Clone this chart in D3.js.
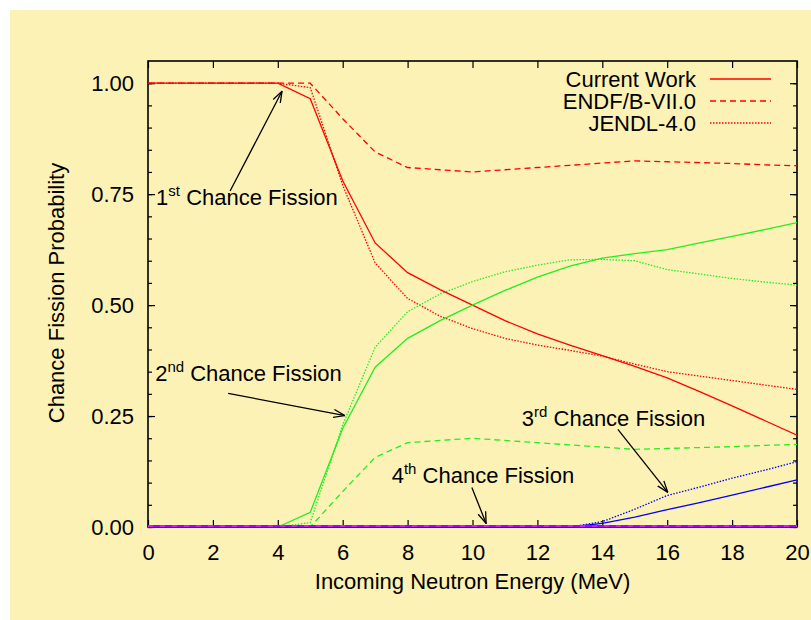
<!DOCTYPE html>
<html>
<head>
<meta charset="utf-8">
<script src="https://cdnjs.cloudflare.com/ajax/libs/d3/7.8.5/d3.min.js"></script>
<style>
  html, body { margin: 0; padding: 0; background: #fff; }
  svg { display: block; }
  text { font-family: "Liberation Sans", Arial, Helvetica, sans-serif; fill: #000; }
</style>
</head>
<body>
<svg id="chart" width="811" height="620"></svg>
<script>
// incoming neutron energy (MeV)
var energy = [0, 1, 2, 3, 4, 5, 6, 7, 8, 9, 10, 11, 12, 13, 14, 15, 16, 17, 18, 19, 20];

// Current Work
var cw1 = [1, 1, 1, 1, 1, 0.965, 0.78, 0.64, 0.573, 0.535, 0.50, 0.465, 0.435, 0.41, 0.386, 0.362, 0.336, 0.305, 0.273, 0.24, 0.207];
var cw2 = [0, 0, 0, 0, 0, 0.033, 0.222, 0.36, 0.425, 0.465, 0.50, 0.533, 0.563, 0.588, 0.606, 0.616, 0.625, 0.64, 0.655, 0.67, 0.686];
var cw3 = [0, 0, 0, 0, 0, 0, 0, 0, 0, 0, 0, 0, 0, 0, 0.008, 0.022, 0.039, 0.055, 0.072, 0.089, 0.106];
var cw4 = [0, 0, 0, 0, 0, 0, 0, 0, 0, 0, 0, 0, 0, 0, 0, 0, 0, 0, 0, 0, 0];

// ENDF/B-VII.0
var endf1 = [1, 1, 1, 1, 1, 1, 0.92, 0.845, 0.81, 0.805, 0.80, 0.805, 0.81, 0.815, 0.82, 0.825, 0.823, 0.821, 0.819, 0.816, 0.814];
var endf2 = [0, 0, 0, 0, 0, 0, 0.08, 0.157, 0.19, 0.195, 0.20, 0.195, 0.19, 0.185, 0.18, 0.175, 0.177, 0.179, 0.181, 0.184, 0.186];
var endf3 = [0, 0, 0, 0, 0, 0, 0, 0, 0, 0, 0, 0, 0, 0, 0, 0, 0, 0, 0, 0, 0];
var endf4 = [0, 0, 0, 0, 0, 0, 0, 0, 0, 0, 0, 0, 0, 0, 0, 0, 0, 0, 0, 0, 0];

// JENDL-4.0
var jendl1 = [1, 1, 1, 1, 1, 0.99, 0.77, 0.595, 0.515, 0.475, 0.447, 0.425, 0.41, 0.398, 0.385, 0.367, 0.35, 0.34, 0.33, 0.32, 0.31];
var jendl2 = [0, 0, 0, 0, 0, 0.01, 0.23, 0.405, 0.485, 0.525, 0.553, 0.575, 0.59, 0.602, 0.603, 0.60, 0.58, 0.57, 0.56, 0.552, 0.545];
var jendl3 = [0, 0, 0, 0, 0, 0, 0, 0, 0, 0, 0, 0, 0, 0, 0.012, 0.04, 0.071, 0.09, 0.11, 0.128, 0.147];

var xTicks = [0, 2, 4, 6, 8, 10, 12, 14, 16, 18, 20];
var yTicks = [0, 0.25, 0.5, 0.75, 1.0];
var yMinorTicks = d3.range(0, 21).map(function (i) { return i * 0.05; });

var legendLabels = ['Current Work', 'ENDF/B-VII.0', 'JENDL-4.0'];

// annotation text and arrows, in data coordinates
var annotations = [
  { n: '1', sup: 'st', x: 0.25, y: 0.726, from: [2.53, 0.757], to: [4.13, 0.982] },
  { n: '2', sup: 'nd', x: 0.22, y: 0.329, from: [2.47, 0.301], to: [6.07, 0.251] },
  { n: '3', sup: 'rd', x: 11.52, y: 0.227, from: [14.48, 0.220], to: [16.02, 0.078] },
  { n: '4', sup: 'th', x: 7.51, y: 0.100, from: [9.98, 0.089], to: [10.42, 0.008] }
];

var red = '#ff0000', green = '#22ee22', blue = '#0000ff', purple = '#a800f8', magenta = '#ff33ff';
var solid = null, dashed = '6,4', dotted = '1.5,1.5';

var series = [
  { values: endf1, color: red, dash: dashed, w: 1.3 },
  { values: endf2, color: green, dash: dashed, w: 1.3 },
  { values: endf3, color: blue, dash: dashed, w: 1.3 },
  { values: jendl1, color: red, dash: dotted, w: 1.3 },
  { values: jendl2, color: green, dash: dotted, w: 1.3 },
  { values: jendl3, color: blue, dash: dotted, w: 1.3 },
  { values: cw1, color: red, dash: solid, w: 1.3 },
  { values: cw2, color: green, dash: solid, w: 1.3 },
  { values: cw3, color: blue, dash: solid, w: 1.3 },
  { values: cw4, color: purple, dash: solid, w: 2.2 },
  { values: endf4, color: magenta, dash: '5,7', w: 1.2 }
];
var legendStyles = [solid, dashed, dotted];

var svg = d3.select('#chart');
var margin = { left: 148, right: 14, top: 61, bottom: 93 };
var W = 811, H = 620;
var width = W - margin.left - margin.right;
var height = H - margin.top - margin.bottom;
var fontSize = 22;

// page background
svg.append('rect')
  .attr('x', 10).attr('y', 10)
  .attr('width', W - 10).attr('height', H - 10)
  .attr('fill', '#fdf2b6');

var x = d3.scaleLinear().domain([0, 20]).range([0, width]);
var y = d3.scaleLinear().domain([0, 1.05]).range([height, 0]);

var defs = svg.append('defs');
defs.append('marker')
  .attr('id', 'head')
  .attr('viewBox', '0 0 12 10')
  .attr('refX', 11.5).attr('refY', 5)
  .attr('markerWidth', 12).attr('markerHeight', 10)
  .attr('markerUnits', 'userSpaceOnUse')
  .attr('orient', 'auto')
  .append('path')
  .attr('d', 'M0,1 L11.5,5 L0,9')
  .attr('fill', 'none')
  .attr('stroke', '#000')
  .attr('stroke-width', 1.3);

defs.append('clipPath').attr('id', 'plot-clip')
  .append('rect').attr('width', width).attr('height', height + 2).attr('y', -1);

var g = svg.append('g')
  .attr('transform', 'translate(' + margin.left + ',' + margin.top + ')');

// axes (ticks inward, mirrored)
function styleAxis(sel) {
  sel.select('.domain').remove();
  sel.selectAll('line').attr('stroke', '#000').attr('stroke-width', 1.2);
  sel.selectAll('text')
    .style('font-size', fontSize + 'px')
    .style('font-family', '"Liberation Sans", Arial, Helvetica, sans-serif')
    .attr('fill', '#000');
}

g.append('g')
  .attr('transform', 'translate(0,' + height + ')')
  .call(d3.axisBottom(x).tickValues(xTicks).tickFormat(d3.format('d')).tickSize(-7).tickPadding(17))
  .call(styleAxis);
g.append('g')
  .call(d3.axisTop(x).tickValues(xTicks).tickFormat('').tickSize(-7))
  .call(styleAxis);
g.append('g')
  .call(d3.axisLeft(y).tickValues(yTicks).tickFormat(d3.format('.2f')).tickSize(-7).tickPadding(14))
  .call(styleAxis);
g.append('g')
  .call(d3.axisLeft(y).tickValues(yMinorTicks).tickFormat('').tickSize(-4))
  .call(styleAxis);
g.append('g')
  .attr('transform', 'translate(' + width + ',0)')
  .call(d3.axisRight(y).tickValues(yTicks).tickFormat('').tickSize(-7))
  .call(styleAxis);
g.append('g')
  .attr('transform', 'translate(' + width + ',0)')
  .call(d3.axisRight(y).tickValues(yMinorTicks).tickFormat('').tickSize(-4))
  .call(styleAxis);

// frame
g.append('rect')
  .attr('width', width).attr('height', height)
  .attr('fill', 'none')
  .attr('stroke', '#000')
  .attr('stroke-width', 1.6);

// curves
var line = d3.line()
  .x(function (d, i) { return x(energy[i]); })
  .y(function (d) { return y(d); });

var curves = g.append('g').attr('clip-path', 'url(#plot-clip)');
series.forEach(function (s) {
  curves.append('path')
    .attr('d', line(s.values))
    .attr('fill', 'none')
    .attr('stroke', s.color)
    .attr('stroke-width', s.w)
    .attr('stroke-dasharray', s.dash)
    // zero-valued lines sit just above the frame, like the original plot
    .attr('transform', d3.max(s.values) === 0 ? 'translate(0,-1)' : null);
});

// annotations
annotations.forEach(function (a) {
  var t = g.append('text')
    .attr('x', x(a.x)).attr('y', y(a.y))
    .style('font-size', fontSize + 'px');
  t.append('tspan').text(a.n);
  t.append('tspan').attr('dy', -9).style('font-size', '15px').text(a.sup);
  t.append('tspan').attr('dy', 9).text(' Chance Fission');

  g.append('line')
    .attr('x1', x(a.from[0])).attr('y1', y(a.from[1]))
    .attr('x2', x(a.to[0])).attr('y2', y(a.to[1]))
    .attr('stroke', '#000')
    .attr('stroke-width', 1.3)
    .attr('marker-end', 'url(#head)');
});

// legend
var legend = g.append('g').attr('transform', 'translate(' + (696 - margin.left) + ',' + (79 - margin.top) + ')');
legendLabels.forEach(function (label, i) {
  var row = legend.append('g').attr('transform', 'translate(0,' + (i * 22) + ')');
  row.append('text')
    .attr('x', 0).attr('y', 0).attr('dy', '0.36em')
    .attr('text-anchor', 'end')
    .style('font-size', fontSize + 'px')
    .text(label);
  row.append('line')
    .attr('x1', 14).attr('x2', 75)
    .attr('stroke', red)
    .attr('stroke-width', 1.3)
    .attr('stroke-dasharray', legendStyles[i]);
});

// axis titles
svg.append('text')
  .attr('x', margin.left + width / 2).attr('y', 589)
  .attr('text-anchor', 'middle')
  .style('font-size', fontSize + 'px')
  .text('Incoming Neutron Energy (MeV)');

svg.append('text')
  .attr('transform', 'translate(64,' + (margin.top + height / 2 - 1) + ') rotate(-90)')
  .attr('text-anchor', 'middle')
  .style('font-size', fontSize + 'px')
  .text('Chance Fission Probability');
</script>
</body>
</html>
